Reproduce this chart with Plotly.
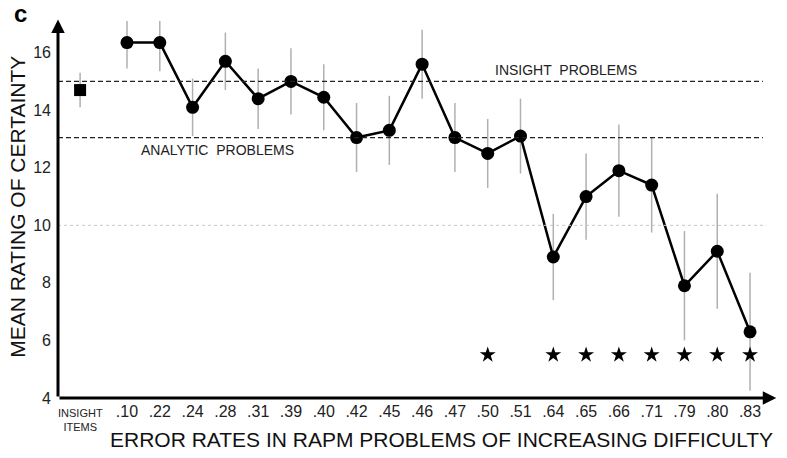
import plotly.graph_objects as go

# Error-rate categories of the RAPM problems (ordered by difficulty)
error_rates = [".10", ".22", ".24", ".28", ".31", ".39", ".40", ".42", ".45", ".46",
               ".47", ".50", ".51", ".64", ".65", ".66", ".71", ".79", ".80", ".83"]
# Mean certainty rating per RAPM problem and its error bar half-width
mean_certainty = [16.35, 16.35, 14.1, 15.7, 14.4, 15.0, 14.45, 13.05, 13.3, 15.6,
                  13.05, 12.5, 13.1, 8.9, 11.0, 11.9, 11.4, 7.9, 9.1, 6.3]
certainty_err = [0.9, 1.0, 1.0, 1.0, 1.05, 1.15, 1.15, 1.2, 1.2, 1.2,
                 1.2, 1.2, 1.3, 1.5, 1.5, 1.6, 1.65, 1.9, 2.0, 2.05]
# Insight items summary point
insight_mean = [14.7]
insight_err = [0.6]
# Reference levels
insight_level = 15.0
analytic_level = 13.05
# Problems marked as significantly different
starred = [".50", ".64", ".65", ".66", ".71", ".79", ".80", ".83"]
star_level = 5.5
y_ticks = [4, 6, 8, 10, 12, 14, 16]

FONT = "Liberation Sans, Arial, sans-serif"

pos = list(range(1, len(error_rates) + 1))
pos_of = dict(zip(error_rates, pos))
insight_pos = -0.43
x_lo, x_hi = -1.104, 20.70
y_lo, y_hi = 4.0, 17.1

fig = go.Figure()

# Mean rating line with error bars
fig.add_trace(go.Scatter(
    x=pos, y=mean_certainty, mode="lines+markers",
    line=dict(color="black", width=2.5),
    marker=dict(symbol="circle", size=13, color="black"),
    error_y=dict(type="data", array=certainty_err, visible=True,
                 color="#b0b0b0", thickness=1.5, width=0),
    showlegend=False,
))

# Insight items square
fig.add_trace(go.Scatter(
    x=[insight_pos], y=insight_mean, mode="markers",
    marker=dict(symbol="square", size=12, color="black"),
    error_y=dict(type="data", array=insight_err, visible=True,
                 color="#b0b0b0", thickness=1.5, width=0),
    showlegend=False,
))

# Significance stars
fig.add_trace(go.Scatter(
    x=[pos_of[s] for s in starred], y=[star_level] * len(starred), mode="markers",
    marker=dict(symbol="star", size=12, color="black"),
    showlegend=False,
))

shapes = [
    dict(type="line", xref="x", yref="y", x0=x_lo, x1=20.39, y0=insight_level, y1=insight_level,
         line=dict(color="#222222", width=1.3, dash="5px,3px")),
    dict(type="line", xref="x", yref="y", x0=x_lo, x1=20.39, y0=analytic_level, y1=analytic_level,
         line=dict(color="#222222", width=1.3, dash="5px,3px")),
    dict(type="line", xref="x", yref="y", x0=x_lo, x1=20.5, y0=10, y1=10,
         line=dict(color="#c8c8c8", width=1, dash="dot")),
]

annotations = [
    # axis arrows
    dict(x=x_lo, y=17.15, ax=x_lo, ay=y_lo, xref="x", yref="y", axref="x", ayref="y",
         showarrow=True, arrowhead=2, arrowsize=0.9, arrowwidth=3, arrowcolor="black", text=""),
    dict(x=20.8, y=y_lo, ax=x_lo, ay=y_lo, xref="x", yref="y", axref="x", ayref="y",
         showarrow=True, arrowhead=2, arrowsize=0.9, arrowwidth=3, arrowcolor="black", text=""),
    # reference line labels
    dict(x=14.38, y=insight_level, xref="x", yref="y", yanchor="bottom", showarrow=False,
         text="INSIGHT  PROBLEMS", font=dict(family=FONT, size=14, color="#222222"), yshift=1),
    dict(x=3.75, y=analytic_level, xref="x", yref="y", yanchor="top", showarrow=False,
         text="ANALYTIC  PROBLEMS", font=dict(family=FONT, size=14, color="#222222"), yshift=-2),
    # insight items tick label
    dict(x=insight_pos, y=-0.058, xref="x", yref="paper", yanchor="middle", showarrow=False,
         text="INSIGHT<br>ITEMS", font=dict(family=FONT, size=11, color="#222222"),
         align="center"),
    # axis titles
    dict(x=0.537, y=-0.111, xref="paper", yref="paper", xanchor="center", yanchor="middle",
         showarrow=False, text="ERROR RATES IN RAPM PROBLEMS OF INCREASING DIFFICULTY",
         font=dict(family=FONT, size=21, color="#111111")),
    dict(x=-0.056, y=0.507, xref="paper", yref="paper", xanchor="center", yanchor="middle",
         showarrow=False, text="MEAN RATING OF CERTAINTY", textangle=-90,
         font=dict(family=FONT, size=21, color="#111111")),
    # panel letter
    dict(x=-0.053, y=1.02, xref="paper", yref="paper", xanchor="center", yanchor="middle",
         showarrow=False, text="<b>c</b>",
         font=dict(family=FONT, size=24, color="black")),
]

fig.update_layout(
    width=787, height=458,
    margin=dict(l=58, r=14, t=21, b=60),
    paper_bgcolor="white", plot_bgcolor="white",
    shapes=shapes, annotations=annotations,
    xaxis=dict(range=[x_lo, x_hi], tickvals=pos, ticktext=error_rates,
               showgrid=False, zeroline=False, showline=False, ticks="",
               ticklabelstandoff=2,
               tickfont=dict(family=FONT, size=16, color="#222222")),
    yaxis=dict(range=[y_lo, y_hi], tickvals=y_ticks, showgrid=False, zeroline=False,
               showline=False, ticks="", ticklabelstandoff=6,
               tickfont=dict(family=FONT, size=16, color="#222222")),
)

fig.write_html("out.html")
